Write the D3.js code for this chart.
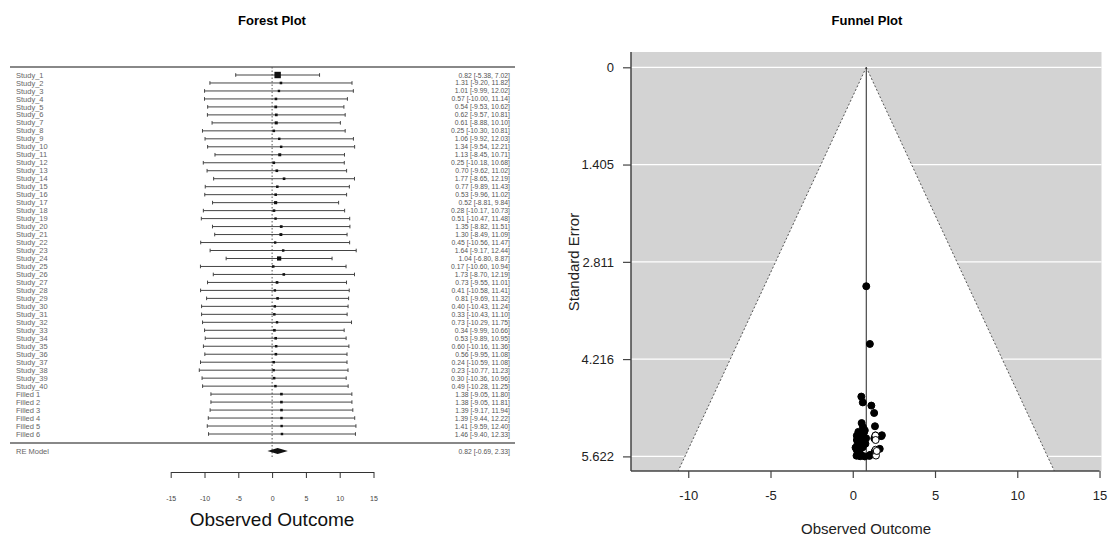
<!doctype html>
<html>
<head>
<meta charset="utf-8">
<title>Forest and Funnel</title>
<script src="https://cdn.jsdelivr.net/npm/d3@7"></script>
<style>
body { margin: 0; background: #fff; font-family: "Liberation Sans", Arial, sans-serif; }
</style>
</head>
<body>
<script>
// ---- data ----
var studyEst = [0.82, 1.31, 1.01, 0.57, 0.54, 0.62, 0.61, 0.25, 1.06, 1.34,
                1.13, 0.25, 0.70, 1.77, 0.77, 0.53, 0.52, 0.28, 0.51, 1.35,
                1.30, 0.45, 1.64, 1.04, 0.17, 1.73, 0.73, 0.41, 0.81, 0.40,
                0.33, 0.73, 0.34, 0.53, 0.60, 0.56, 0.24, 0.23, 0.30, 0.49];
var studyLo = [-5.38, -9.20, -9.99, -10.00, -9.53, -9.57, -8.88, -10.30, -9.92, -9.54,
               -8.45, -10.18, -9.62, -8.65, -9.89, -9.96, -8.81, -10.17, -10.47, -8.82,
               -8.49, -10.56, -9.17, -6.80, -10.60, -8.70, -9.55, -10.58, -9.69, -10.43,
               -10.43, -10.29, -9.99, -9.89, -10.16, -9.95, -10.59, -10.77, -10.36, -10.28];
var studyHi = [7.02, 11.82, 12.02, 11.14, 10.62, 10.81, 10.10, 10.81, 12.03, 12.21,
               10.71, 10.68, 11.02, 12.19, 11.43, 11.02, 9.84, 10.73, 11.48, 11.51,
               11.09, 11.47, 12.44, 8.87, 10.94, 12.19, 11.01, 11.41, 11.32, 11.24,
               11.10, 11.75, 10.66, 10.95, 11.36, 11.08, 11.08, 11.23, 10.96, 11.25];
var filledEst = [1.38, 1.38, 1.39, 1.39, 1.41, 1.46];
var filledLo = [-9.05, -9.05, -9.17, -9.44, -9.59, -9.40];
var filledHi = [11.80, 11.81, 11.94, 12.22, 12.40, 12.33];
var reModel = { est: 0.82, lo: -0.69, hi: 2.33 };

var studyLabels = studyEst.map(function(d, i) { return "Study_" + (i + 1); });
var filledLabels = filledEst.map(function(d, i) { return "Filled " + (i + 1); });

var forestTicks = [-15, -10, -5, 0, 5, 10, 15];
var funnelXTicks = [-10, -5, 0, 5, 10, 15];
var funnelYTicks = [0, 1.405, 2.811, 4.216, 5.622];

// combined rows for the forest plot
var rows = [];
studyEst.forEach(function(d, i) {
    rows.push({ label: studyLabels[i], est: d, lo: studyLo[i], hi: studyHi[i], filled: false });
});
filledEst.forEach(function(d, i) {
    rows.push({ label: filledLabels[i], est: d, lo: filledLo[i], hi: filledHi[i], filled: true });
});
rows.forEach(function(r) { r.se = (r.hi - r.lo) / (2 * 1.96); r.w = 1 / (r.se * r.se); });

// plain hyphen for negatives, like R
var hyphen = function(d) { return String(d); };

var svg = d3.select("body").append("svg")
    .attr("width", 1108)
    .attr("height", 540);

// ================= FOREST PLOT =================
var fx = d3.scaleLinear().domain([-15, 15]).range([170.7, 373.5]);
var fy = d3.scaleLinear().domain([0, rows.length - 1]).range([75, 434]);
var psize = d3.scaleLinear().domain(d3.extent(rows, function(r) { return r.w; })).range([1.2, 3.2]);
var fmt = d3.format(".2f");
var fnum = function(v) { return fmt(v).replace("\u2212", "-"); };

var forest = svg.append("g");

forest.append("text")
    .attr("x", 272).attr("y", 25)
    .attr("text-anchor", "middle")
    .style("font-size", "13px").style("font-weight", "bold")
    .text("Forest Plot");

// separators
[67, 443].forEach(function(y) {
    forest.append("line")
        .attr("x1", 10).attr("x2", 515)
        .attr("y1", y).attr("y2", y)
        .attr("stroke", "#888").attr("stroke-width", 2);
});

// dotted reference line at 0
forest.append("line")
    .attr("x1", fx(0)).attr("x2", fx(0))
    .attr("y1", 67).attr("y2", 458)
    .attr("stroke", "#555").attr("stroke-width", 1)
    .attr("stroke-dasharray", "1.5,2");

var row = forest.selectAll(".row")
    .data(rows)
    .enter().append("g")
    .attr("class", "row")
    .attr("transform", function(d, i) { return "translate(0," + fy(i) + ")"; });

row.append("line")
    .attr("x1", function(d) { return fx(d.lo); })
    .attr("x2", function(d) { return fx(d.hi); })
    .attr("stroke", "#444").attr("stroke-width", 1);

row.append("line")
    .attr("x1", function(d) { return fx(d.lo); })
    .attr("x2", function(d) { return fx(d.lo); })
    .attr("y1", -1.8).attr("y2", 1.8)
    .attr("stroke", "#444");

row.append("line")
    .attr("x1", function(d) { return fx(d.hi); })
    .attr("x2", function(d) { return fx(d.hi); })
    .attr("y1", -1.8).attr("y2", 1.8)
    .attr("stroke", "#444");

row.append("rect")
    .attr("x", function(d) { return fx(d.est) - psize(d.w); })
    .attr("y", function(d) { return -psize(d.w); })
    .attr("width", function(d) { return 2 * psize(d.w); })
    .attr("height", function(d) { return 2 * psize(d.w); })
    .attr("fill", "#111");

row.append("text")
    .attr("x", 16).attr("y", 2.6)
    .style("font-size", "7.5px").attr("fill", "#666")
    .text(function(d) { return d.label; });

row.append("text")
    .attr("x", 510).attr("y", 2.5)
    .attr("text-anchor", "end")
    .style("font-size", "6.8px").attr("fill", "#555")
    .text(function(d) { return fnum(d.est) + " [" + fnum(d.lo) + ", " + fnum(d.hi) + "]"; });

// RE model
var reY = 451;
forest.append("path")
    .attr("d", "M" + fx(reModel.lo) + "," + reY +
               "L" + fx(reModel.est) + "," + (reY - 3) +
               "L" + fx(reModel.hi) + "," + reY +
               "L" + fx(reModel.est) + "," + (reY + 3) + "Z")
    .attr("fill", "#111");

forest.append("text")
    .attr("x", 16).attr("y", reY + 2.5)
    .style("font-size", "7.5px").attr("fill", "#666")
    .text("RE Model");

forest.append("text")
    .attr("x", 510).attr("y", reY + 2.5)
    .attr("text-anchor", "end")
    .style("font-size", "6.8px").attr("fill", "#555")
    .text(fnum(reModel.est) + " [" + fnum(reModel.lo) + ", " + fnum(reModel.hi) + "]");

// axis
var fAxis = forest.append("g")
    .attr("transform", "translate(0,472)")
    .call(d3.axisBottom(fx).tickValues(forestTicks).tickFormat(hyphen)
        .tickSize(6).tickPadding(18).tickSizeOuter(0));
fAxis.select(".domain").attr("stroke", "#333");
fAxis.selectAll(".tick line").attr("stroke", "#333");
fAxis.selectAll("text").style("font-size", "7px").attr("fill", "#444");

forest.append("text")
    .attr("x", 272).attr("y", 526)
    .attr("text-anchor", "middle")
    .style("font-size", "19px").attr("fill", "#111")
    .text("Observed Outcome");

// ================= FUNNEL PLOT =================
var gx = d3.scaleLinear().domain([0.82 - 14.3, 0.82 + 14.3]).range([631, 1101.5]);
var gy = d3.scaleLinear().domain([0, 5.622]).range([67.3, 456.4]);
var yTop = gy.invert(52), yBot = gy.invert(471);

var funnel = svg.append("g");

funnel.append("text")
    .attr("x", 867).attr("y", 25)
    .attr("text-anchor", "middle")
    .style("font-size", "13px").style("font-weight", "bold")
    .text("Funnel Plot");

funnel.append("rect")
    .attr("x", gx.range()[0]).attr("y", gy(yTop))
    .attr("width", gx.range()[1] - gx.range()[0])
    .attr("height", gy(yBot) - gy(yTop))
    .attr("fill", "#d3d3d3");

funnel.selectAll(".grid")
    .data(funnelYTicks)
    .enter().append("line")
    .attr("x1", gx.range()[0]).attr("x2", gx.range()[1])
    .attr("y1", function(d) { return gy(d); })
    .attr("y2", function(d) { return gy(d); })
    .attr("stroke", "#fff").attr("stroke-width", 1.2);

var c = reModel.est;
funnel.append("path")
    .attr("d", "M" + gx(c) + "," + gy(0) +
               "L" + gx(c - 1.96 * yBot) + "," + gy(yBot) +
               "L" + gx(c + 1.96 * yBot) + "," + gy(yBot) + "Z")
    .attr("fill", "#fff");

[-1, 1].forEach(function(s) {
    funnel.append("line")
        .attr("x1", gx(c)).attr("y1", gy(0))
        .attr("x2", gx(c + s * 1.96 * yBot)).attr("y2", gy(yBot))
        .attr("stroke", "#555").attr("stroke-dasharray", "2,2");
});

funnel.append("line")
    .attr("x1", gx(c)).attr("x2", gx(c))
    .attr("y1", gy(0)).attr("y2", gy(yBot))
    .attr("stroke", "#222").attr("stroke-width", 1);

funnel.selectAll(".pt")
    .data(rows)
    .enter().append("circle")
    .attr("cx", function(d) { return gx(d.est); })
    .attr("cy", function(d) { return gy(d.se); })
    .attr("r", 3.5)
    .attr("fill", function(d) { return d.filled ? "#fff" : "#000"; })
    .attr("stroke", "#000").attr("stroke-width", 1);

// axes
funnel.append("line")
    .attr("x1", 631).attr("x2", 631)
    .attr("y1", gy(yTop)).attr("y2", gy(yBot))
    .attr("stroke", "#444").attr("stroke-width", 1.5);
funnel.append("line")
    .attr("x1", 631).attr("x2", gx(15))
    .attr("y1", gy(yBot)).attr("y2", gy(yBot))
    .attr("stroke", "#444").attr("stroke-width", 1.5);

var yAxis = funnel.append("g")
    .attr("transform", "translate(631,0)")
    .call(d3.axisLeft(gy).tickValues(funnelYTicks).tickFormat(d3.format(".3~f"))
        .tickSize(8).tickPadding(9).tickSizeOuter(0));
yAxis.select(".domain").remove();
yAxis.selectAll(".tick line").attr("stroke", "#444").attr("stroke-width", 1.2);
yAxis.selectAll("text").style("font-size", "13px").attr("fill", "#222");

var xAxis = funnel.append("g")
    .attr("transform", "translate(0," + gy(yBot) + ")")
    .call(d3.axisBottom(gx).tickValues(funnelXTicks).tickFormat(hyphen)
        .tickSize(7).tickPadding(13).tickSizeOuter(0));
xAxis.select(".domain").remove();
xAxis.selectAll(".tick line").attr("stroke", "#444").attr("stroke-width", 1.2);
xAxis.selectAll("text").style("font-size", "13px").attr("fill", "#222");

funnel.append("text")
    .attr("transform", "translate(579,262) rotate(-90)")
    .attr("text-anchor", "middle")
    .style("font-size", "15px").attr("fill", "#222")
    .text("Standard Error");

funnel.append("text")
    .attr("x", 866).attr("y", 534)
    .attr("text-anchor", "middle")
    .style("font-size", "15px").attr("fill", "#222")
    .text("Observed Outcome");
</script>
</body>
</html>
